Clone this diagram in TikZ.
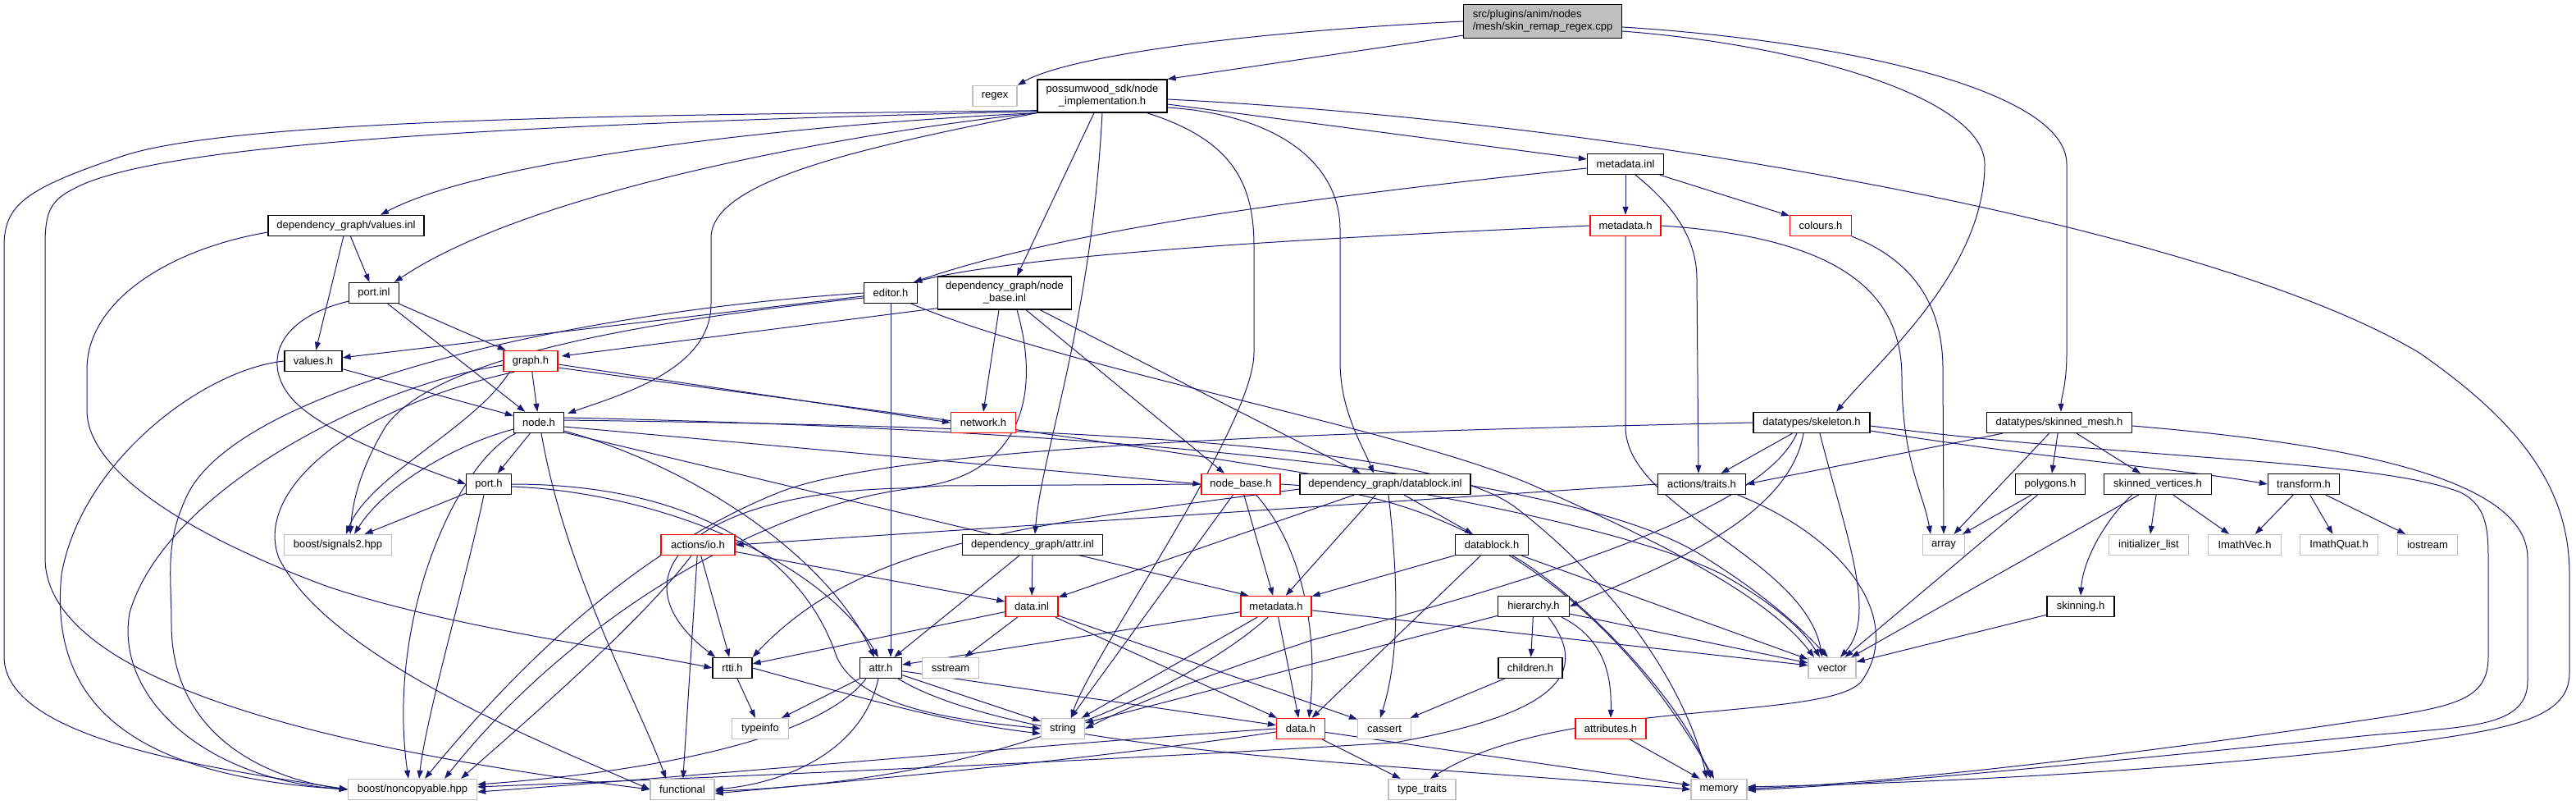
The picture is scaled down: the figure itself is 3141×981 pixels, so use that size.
\documentclass[tikz,border=0pt]{standalone}
\usepackage{fontspec}
\setmainfont{Liberation Sans}
\usetikzlibrary{arrows.meta,calc}
\definecolor{edgec}{HTML}{191970}
\definecolor{sysg}{HTML}{BFBFBF}
\definecolor{redc}{HTML}{FF0000}
\pgfdeclarelayer{edges}
\pgfsetlayers{edges,main}
\begin{document}
\begin{tikzpicture}[x=1pt,y=-1pt,
  box/.style={draw=black, fill=white, line width=1.3pt, minimum height=25pt, inner sep=0pt, font=\fontsize{13}{15}\selectfont, text=black},
  rbox/.style={box, draw=redc},
  gbox/.style={box, draw=sysg},
  twol/.style={minimum height=40pt, align=center},
  ed/.style={draw=edgec, line width=1pt, -{Triangle[length=10pt,width=7pt]}}]
\useasboundingbox (0,0) rectangle (3141,981);
% nodes
\node[box, fill=sysg, align=left, minimum width=193pt, minimum height=41pt] (root) at (1881,26) {src/plugins/anim/nodes\\/mesh/skin\_remap\_regex.cpp};
\node[gbox, minimum width=54pt] (regex) at (1213,117) {regex};
\node[box, twol, minimum width=158pt] (nimpl) at (1344,117) {possumwood\_sdk/node\\\_implementation.h};
\node[box, minimum width=93pt] (metainl) at (1982,200) {metadata.inl};
\node[rbox, minimum width=86pt] (metah1) at (1982,275) {metadata.h};
\node[rbox, minimum width=75pt] (colours) at (2220,275) {colours.h};
\node[box, minimum width=190pt] (valinl) at (422,275) {dependency\_graph/values.inl};
\node[box, minimum width=61pt] (portinl) at (456,357) {port.inl};
\node[box, minimum width=65pt] (editor) at (1086,357) {editor.h};
\node[box, twol, minimum width=163pt] (nbinl) at (1225,357) {dependency\_graph/node\\\_base.inl};
\node[box, minimum width=70pt] (valh) at (382,440) {values.h};
\node[rbox, minimum width=66pt] (graph) at (647,440) {graph.h};
\node[box, minimum width=61pt] (nodeh) at (657,515) {node.h};
\node[rbox, minimum width=79pt] (network) at (1199,515) {network.h};
\node[box, minimum width=142pt] (skel) at (2209,515) {datatypes/skeleton.h};
\node[box, minimum width=177pt] (skmesh) at (2511,515) {datatypes/skinned\_mesh.h};
\node[box, minimum width=55pt] (porth) at (596,590) {port.h};
\node[rbox, minimum width=96pt] (nbh) at (1513,590) {node\_base.h};
\node[box, minimum width=208pt] (dbinl) at (1689,590) {dependency\_graph/datablock.inl};
\node[box, minimum width=107pt] (traits) at (2075,590) {actions/traits.h};
\node[box, minimum width=85pt] (polygons) at (2500,590) {polygons.h};
\node[box, minimum width=131pt] (skverts) at (2631,590) {skinned\_vertices.h};
\node[box, minimum width=87pt] (transform) at (2809,590) {transform.h};
\node[gbox, minimum width=131pt] (signals) at (412,664) {boost/signals2.hpp};
\node[rbox, minimum width=90pt] (io) at (851,664) {actions/io.h};
\node[box, minimum width=171pt] (attrinl) at (1259,664) {dependency\_graph/attr.inl};
\node[box, minimum width=89pt] (dbh) at (1819,664) {datablock.h};
\node[gbox, minimum width=51pt] (array) at (2370,664) {array};
\node[gbox, minimum width=97pt] (initlist) at (2620,664) {initializer\_list};
\node[gbox, minimum width=89pt] (imathvec) at (2737,664) {ImathVec.h};
\node[gbox, minimum width=95pt] (imathquat) at (2852,664) {ImathQuat.h};
\node[gbox, minimum width=73pt] (iostream) at (2960,664) {iostream};
\node[rbox, minimum width=64pt] (datainl) at (1258,739) {data.inl};
\node[rbox, minimum width=86pt] (metah2) at (1556,739) {metadata.h};
\node[box, minimum width=87pt] (hier) at (1870,739) {hierarchy.h};
\node[box, minimum width=82pt] (skinning) at (2537,739) {skinning.h};
\node[box, minimum width=48pt] (rtti) at (893,814) {rtti.h};
\node[box, minimum width=51pt] (attrh) at (1074,814) {attr.h};
\node[gbox, minimum width=69pt] (sstream) at (1159,814) {sstream};
\node[box, minimum width=78pt] (children) at (1866,814) {children.h};
\node[gbox, minimum width=58pt] (vector) at (2234,814) {vector};
\node[gbox, minimum width=69pt] (typeinfo) at (927,888) {typeinfo};
\node[gbox, minimum width=53pt] (string) at (1296,888) {string};
\node[rbox, minimum width=59pt] (datah) at (1586,888) {data.h};
\node[gbox, minimum width=65pt] (cassert) at (1688,888) {cassert};
\node[rbox, minimum width=86pt] (attributes) at (1964,888) {attributes.h};
\node[gbox, minimum width=157pt] (noncopy) at (503,962) {boost/noncopyable.hpp};
\node[gbox, minimum width=78pt] (functional) at (832,962) {functional};
\node[gbox, minimum width=82pt] (typetraits) at (1734,962) {type\_traits};
\node[gbox, minimum width=68pt] (memory) at (2096,962) {memory};
\begin{pgfonlayer}{edges}
% root
\draw[ed] (root.west) .. controls (1500,40) and (1300,70) .. (regex.north east);
\draw[ed] ($(root.south west)+(0,-4)$) -- (nimpl.north east);
\draw[ed] ($(root.east)+(0,12)$) .. controls (2200,55) and (2420,120) .. (2420,200) .. controls (2420,330) and (2290,440) .. ($(skel.north)+(30,0)$);
\draw[ed] ($(root.east)+(0,7)$) .. controls (2250,50) and (2520,110) .. (2520,200) -- (2520,430) .. controls (2520,470) and (2513,485) .. ($(skmesh.north)+(2,0)$);
% nimpl
\draw[ed] ($(nimpl.south west)+(0,-3)$) .. controls (900,140) and (300,140) .. (150,190) .. controls (30,230) and (5,250) .. (5,300) -- (5,800) .. controls (5,900) and (250,935) .. (noncopy.west);
\draw[ed] ($(nimpl.south west)+(0,-2)$) .. controls (700,150) and (200,170) .. (90,230) .. controls (60,245) and (55,260) .. (55,300) -- (55,680) .. controls (55,850) and (500,925) .. (functional.west);
\draw[ed] (nimpl.south west) .. controls (1000,150) and (600,190) .. ($(valinl.north)+(42,0)$);
\draw[ed] (nimpl.south west) .. controls (1050,160) and (650,230) .. ($(portinl.north)+(25,0)$);
\draw[ed] (nimpl.south west) .. controls (1050,180) and (867,220) .. (867,290) -- (867,370) .. controls (867,450) and (760,480) .. ($(nodeh.north east)+(4,2)$);
\draw[ed] ($(nimpl.south)+(-10,0)$) -- ($(nbinl.north)+(15,0)$);
\draw[ed] (nimpl.south) .. controls (1330,400) and (1270,550) .. ($(attrinl.north)+(3,0)$);
\draw[ed] ($(nimpl.south east)+(-25,0)$) .. controls (1500,170) and (1529,220) .. (1529,300) -- (1529,430) .. controls (1529,520) and (1330,800) .. ($(string.north)+(10,0)$);
\draw[ed] ($(nimpl.east)+(0,10)$) -- ($(metainl.west)+(0,-6)$);
\draw[ed] ($(nimpl.east)+(0,4)$) .. controls (2000,150) and (2700,280) .. (2950,430) .. controls (3080,520) and (3133,600) .. (3133,700) -- (3133,820) .. controls (3133,880) and (3050,890) .. (2900,910) .. controls (2600,945) and (2300,955) .. ($(memory.east)+(0,-3)$);
\draw[ed] ($(nimpl.east)+(0,14)$) .. controls (1560,140) and (1634,200) .. (1634,280) -- (1634,440) .. controls (1634,500) and (1660,540) .. ($(dbinl.north)+(-14,0)$);
% metadata.inl / metadata.h / colours
\draw[ed] (metainl) -- (metah1);
\draw[ed] (metainl) -- (colours);
\draw[ed] ($(metainl.west)+(0,5)$) .. controls (1600,240) and (1300,280) .. ($(editor.north east)+(-5,0)$);
\draw[ed] ($(metainl.south)+(12,0)$) .. controls (2040,250) and (2069,290) .. (2069,340) -- ($(traits.north)+(-4,0)$);
\draw[ed] (metah1.west) .. controls (1600,290) and (1250,310) .. ($(editor.north east)+(-5,0)$);
\draw[ed] (metah1.south) -- (1982,520) .. controls (1982,620) and (2200,680) .. ($(vector.north)+(-12,0)$);
\draw[ed] (metah1.east) .. controls (2250,290) and (2319,360) .. (2319,460) .. controls (2319,560) and (2345,600) .. ($(array.north)+(-16,0)$);
\draw[ed] (colours.south east) .. controls (2340,320) and (2369,380) .. (2369,450) -- (array.north);
% values.inl / port.inl
\draw[ed] (valinl) -- (portinl);
\draw[ed] (valinl) -- (valh);
\draw[ed] ($(valinl.west)+(0,8)$) .. controls (200,305) and (106,370) .. (106,450) -- (106,500) .. controls (106,580) and (250,660) .. (400,715) .. controls (550,765) and (750,790) .. (rtti.west);
\draw[ed] (portinl) -- (graph);
\draw[ed] (portinl) -- (nodeh);
\draw[ed] ($(portinl.south west)+(0,-3)$) .. controls (330,390) and (320,450) .. (360,490) .. controls (400,530) and (500,565) .. (porth.west);
% editor
\draw[ed] (editor) -- (valh);
\draw[ed] (editor.west) .. controls (700,380) and (300,470) .. (230,600) .. controls (200,660) and (209,700) .. (209,760) .. controls (209,900) and (330,950) .. (noncopy.west);
\draw[ed] ($(editor.west)+(0,6)$) .. controls (700,400) and (520,450) .. (470,520) .. controls (440,570) and (430,610) .. ($(signals.north)+(15,0)$);
\draw[ed] (editor.south) -- ($(attrh.north)+(12,0)$);
\draw[ed] ($(editor.south east)+(-8,0)$) .. controls (1300,450) and (1700,520) .. (1866,590) .. controls (2000,650) and (2150,720) .. ($(vector.north)+(-22,0)$);
% node_base.inl
\draw[ed] ($(nbinl.south west)+(0,-2)$) -- ($(graph.east)+(4,-6)$);
\draw[ed] ($(nbinl.south)+(-7,0)$) -- (network.north);
\draw[ed] ($(nbinl.south)+(26,0)$) -- ($(nbh.north)+(-20,0)$);
\draw[ed] ($(nbinl.south)+(43,0)$) -- ($(dbinl.north)+(-30,0)$);
\draw[ed] ($(nbinl.south)+(15,0)$) .. controls (1275,500) and (1230,590) .. (1100,595) .. controls (850,600) and (740,700) .. ($(rtti.north west)+(4,0)$);
% graph.h
\draw[ed] (graph) -- (nodeh);
\draw[ed] ($(graph.east)+(0,4)$) -- (network.west);
\draw[ed] ($(graph.south west)+(8,0)$) .. controls (580,520) and (450,580) .. ($(signals.north)+(10,0)$);
\draw[ed] ($(graph.west)+(0,5)$) .. controls (450,470) and (200,600) .. (158,747) .. controls (140,850) and (250,950) .. (noncopy.west);
\draw[ed] ($(graph.south west)+(14,0)$) .. controls (420,500) and (310,600) .. (340,680) .. controls (400,800) and (650,900) .. (functional.west);
\draw[ed] ($(graph.east)+(0,8)$) .. controls (1200,520) and (1900,600) .. (2100,700) .. controls (2170,740) and (2200,770) .. ($(vector.north)+(-15,0)$);
% values.h
\draw[ed] (valh) -- (nodeh);
\draw[ed] (valh.west) .. controls (250,450) and (100,560) .. (75,700) .. controls (60,850) and (150,945) .. (noncopy.west);
% node.h
\draw[ed] (nodeh) -- (porth);
\draw[ed] ($(nodeh.south west)+(0,-5)$) .. controls (560,540) and (470,590) .. ($(signals.north)+(20,0)$);
\draw[ed] ($(nodeh.south west)+(3,0)$) .. controls (560,560) and (470,750) .. ($(noncopy.north)+(-5,0)$);
\draw[ed] ($(nodeh.south)+(3,0)$) .. controls (690,700) and (780,860) .. ($(functional.north)+(-20,0)$);
\draw[ed] ($(nodeh.south east)+(0,-3)$) .. controls (850,570) and (1010,680) .. ($(attrh.north)+(-8,0)$);
\draw[ed] ($(nodeh.east)+(0,5)$) -- (nbh.west);
\draw[ed] ($(nodeh.south east)+(0,-1)$) -- ($(metah2.north west)+(10,0)$);
\draw[ed] ($(nodeh.east)+(0,-6)$) .. controls (1200,520) and (1900,560) .. (2080,680) .. controls (2160,730) and (2200,770) .. ($(vector.north)+(-5,0)$);
\draw[ed] ($(nodeh.east)+(0,-3)$) .. controls (1300,520) and (1750,540) .. (1850,620) .. controls (1980,720) and (2060,850) .. ($(memory.north)+(-15,0)$);
% port.h
\draw[ed] (porth) -- (signals);
\draw[ed] ($(porth.south)+(-6,0)$) .. controls (570,700) and (520,870) .. ($(noncopy.north)+(8,0)$);
\draw[ed] ($(porth.east)+(0,3)$) .. controls (800,600) and (1000,680) .. ($(attrh.north)+(-3,0)$);
\draw[ed] (porth.east) .. controls (850,590) and (980,680) .. (1020,800) .. controls (1050,870) and (1200,880) .. (string.west);
% node_base.h
\draw[ed] (nbh) -- (metah2);
\draw[ed] (nbh) -- (string);
\draw[ed] ($(nbh.south east)+(-30,0)$) .. controls (1600,680) and (1605,800) .. ($(datah.north)+(10,0)$);
\draw[ed] (nbh.east) .. controls (1750,600) and (1950,700) .. ($(memory.north)+(-6,0)$);
\draw[ed] (nbh.west) -- (1150,592) .. controls (950,600) and (700,750) .. ($(noncopy.north east)+(-40,0)$);
% datablock.inl
\draw[ed] (dbinl) -- (dbh);
\draw[ed] (dbinl) -- (datainl);
\draw[ed] (dbinl) -- (metah2);
\draw[ed] ($(dbinl.south)+(4,0)$) .. controls (1710,750) and (1700,820) .. ($(cassert.north)+(-5,0)$);
\draw[ed] ($(dbinl.west)+(0,6)$) .. controls (1250,640) and (1050,660) .. (rtti.north east);
% actions/traits.h
\draw[ed] (traits.west) -- (io.east);
\draw[ed] ($(traits.south east)+(-10,0)$) .. controls (2260,660) and (2320,760) .. (2270,830) .. controls (2230,880) and (1900,850) .. ($(typetraits.north)+(10,0)$);
% actions/io.h
\draw[ed] (io) -- (datainl);
\draw[ed] (io) -- (rtti);
\draw[ed] (io) -- (functional);
\draw[ed] ($(io.south)+(-8,0)$) .. controls (780,760) and (640,880) .. ($(noncopy.north east)+(-20,0)$);
% attr.inl, data.inl
\draw[ed] (attrinl) -- (attrh);
\draw[ed] (attrinl) -- (datainl);
\draw[ed] (datainl) -- (rtti);
\draw[ed] (datainl) -- (sstream);
\draw[ed] (datainl) -- (datah);
\draw[ed] (datainl) -- (cassert);
% metadata.h (2)
\draw[ed] (metah2) -- (attrh);
\draw[ed] (metah2) -- (string);
\draw[ed] (metah2) -- (datah);
\draw[ed] ($(metah2.south)+(-10,0)$) .. controls (1470,820) and (1250,950) .. ($(functional.east)+(0,2)$);
\draw[ed] (metah2) -- (vector);
% datablock.h
\draw[ed] (dbh) -- (metah2);
\draw[ed] (dbh) -- (datah);
\draw[ed] (dbh) -- (vector);
\draw[ed] ($(dbh.south east)+(-20,0)$) .. controls (1920,720) and (2050,850) .. ($(memory.north)+(-10,0)$);
% hierarchy.h
\draw[ed] (hier) -- (children);
\draw[ed] ($(hier.south east)+(-10,0)$) .. controls (1960,780) and (1965,830) .. (attributes.north);
\draw[ed] (hier) -- (vector);
\draw[ed] (hier) -- (string);
\draw[ed] ($(hier.south)+(18,0)$) .. controls (1940,820) and (1900,870) .. (1700,905) .. controls (1300,930) and (800,950) .. ($(noncopy.east)+(0,-3)$);
\draw[ed] (children) -- (cassert);
\draw[ed] (attributes) -- (memory);
% skeleton.h
\draw[ed] (skel) -- (traits);
\draw[ed] ($(skel.south)+(-10,0)$) .. controls (2180,640) and (2000,700) .. (hier.east);
\draw[ed] ($(skel.south)+(10,0)$) .. controls (2250,650) and (2290,750) .. ($(vector.north)+(10,0)$);
\draw[ed] ($(skel.south)+(-18,0)$) .. controls (2150,620) and (1900,700) .. (1600,780) .. controls (1450,830) and (1380,860) .. (string.east);
\draw[ed] ($(skel.east)+(0,10)$) .. controls (2500,560) and (2650,570) .. (transform.west);
\draw[ed] ($(skel.east)+(0,4)$) .. controls (2600,560) and (2900,560) .. (3000,600) .. controls (3030,615) and (3034,640) .. (3034,680) -- (3034,800) .. controls (3034,850) and (3000,860) .. (2900,875) .. controls (2600,920) and (2300,955) .. ($(memory.east)+(0,-1)$);
\draw[ed] (skel.west) .. controls (1700,525) and (1100,540) .. (950,600) .. controls (750,680) and (600,850) .. ($(noncopy.north)+(15,0)$);
% skinned_mesh.h
\draw[ed] ($(skmesh.south west)+(20,0)$) -- (traits.east);
\draw[ed] (skmesh) -- (polygons);
\draw[ed] (skmesh) -- (skverts);
\draw[ed] (skmesh) -- (array);
\draw[ed] ($(skmesh.east)+(0,4)$) .. controls (2850,540) and (3082,580) .. (3082,680) -- (3082,830) .. controls (3082,890) and (3000,885) .. (2880,897) .. controls (2600,925) and (2300,955) .. ($(memory.east)+(0,1)$);
\draw[ed] (polygons) -- (array);
\draw[ed] (polygons) -- (vector);
\draw[ed] (skverts) -- (initlist);
\draw[ed] (skverts) -- (imathvec);
\draw[ed] ($(skverts.south west)+(35,0)$) .. controls (2570,630) and (2540,680) .. (skinning.north);
\draw[ed] (skverts) -- (vector);
\draw[ed] (transform) -- (imathvec);
\draw[ed] (transform) -- (imathquat);
\draw[ed] (transform) -- (iostream);
\draw[ed] (skinning) -- (vector);
% attr.h
\draw[ed] (attrh) -- (typeinfo);
\draw[ed] (attrh) -- (string);
\draw[ed] (attrh) -- (datah);
\draw[ed] ($(attrh.south)+(-3,0)$) .. controls (1050,920) and (950,955) .. (functional.east);
\draw[ed] ($(attrh.south west)+(8,0)$) .. controls (1000,900) and (800,940) .. ($(noncopy.east)+(0,-6)$);
\draw[ed] ($(attrh.south east)+(-5,0)$) .. controls (1250,920) and (1700,930) .. (memory.west);
% rtti.h
\draw[ed] (rtti) -- (typeinfo);
\draw[ed] (rtti.east) .. controls (1050,850) and (1150,880) .. ($(string.west)+(0,6)$);
% data.h
\draw[ed] (datah.west) .. controls (1300,905) and (800,950) .. ($(noncopy.east)+(0,3)$);
\draw[ed] ($(datah.west)+(0,4)$) .. controls (1300,930) and (1000,955) .. ($(functional.east)+(0,5)$);
\draw[ed] (datah) -- (typetraits);
\draw[ed] (datah) -- (memory);
\end{pgfonlayer}
\end{tikzpicture}
\end{document}
